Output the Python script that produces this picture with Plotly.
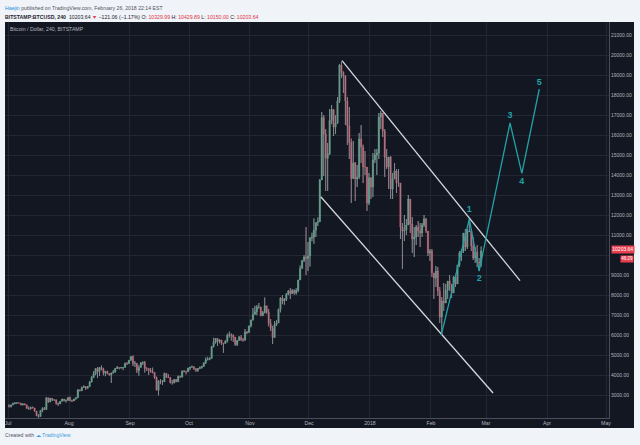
import plotly.graph_objects as go
import pandas as pd

# ---- Daily candles (open, high, low, close), BITSTAMP BTCUSD ----
jul_2017 = [
    (2480,2530,2380,2420),(2420,2520,2380,2500),(2500,2620,2500,2560),(2560,2640,2550,2600),
    (2600,2630,2550,2610),(2610,2620,2580,2600),(2600,2600,2490,2500),(2500,2570,2480,2560),
    (2560,2570,2500,2500),(2500,2520,2310,2330),(2330,2420,2260,2310),(2310,2420,2270,2380),
    (2380,2420,2330,2350),(2350,2360,2160,2200),(2200,2200,1940,1960),(1960,2050,1860,1930),
    (1930,2230,1920,2230),(2230,2390,2140,2320),(2320,2400,2250,2270),(2270,2900,2260,2860),
    (2860,2860,2610,2660),(2660,2860,2640,2830),(2830,2850,2700,2750),(2750,2780,2710,2760),
    (2760,2770,2520,2580),(2580,2620,2460,2550),(2550,2700,2550,2690),(2690,2810,2680,2800),
    (2800,2800,2680,2720),(2720,2760,2620,2750),(2750,2880,2700,2870),
]
aug_2017 = [
    (2870,2920,2690,2710),(2710,2760,2650,2700),(2700,2810,2700,2800),(2800,2890,2770,2860),
    (2860,3300,2860,3250),(3250,3280,3180,3220),(3220,3420,3190,3380),(3380,3480,3370,3420),
    (3420,3430,3250,3340),(3340,3450,3320,3420),(3420,3700,3410,3650),(3650,3950,3630,3870),
    (3870,4200,3860,4060),(4060,4330,3990,4320),(4320,4400,3850,4170),(4170,4390,3950,4380),
    (4380,4480,4240,4290),(4290,4360,3980,4110),(4110,4190,3940,4190),(4190,4210,4040,4080),
    (4080,4080,3970,4000),(4000,4120,3600,4100),(4100,4250,4080,4150),(4150,4340,4120,4330),
    (4330,4450,4300,4370),(4370,4380,4280,4350),(4350,4400,4320,4380),(4380,4400,4240,4380),
    (4380,4620,4380,4580),(4580,4640,4500,4570),(4570,4750,4560,4740),
]
sep_2017 = [
    (4740,4930,4720,4920),(4920,4980,4450,4580),(4580,4700,4400,4590),(4590,4590,4100,4230),
    (4230,4480,3970,4380),(4380,4650,4380,4600),(4600,4680,4500,4630),(4630,4700,4120,4320),
    (4320,4390,4200,4320),(4320,4330,4000,4220),(4220,4350,4110,4170),(4170,4370,4080,4130),
    (4130,4130,3800,3870),(3870,3920,3240,3240),(3240,3740,2980,3700),(3700,3800,3540,3690),
    (3690,3750,3500,3660),(3660,4120,3660,4080),(4080,4090,3850,3900),(3900,4050,3860,3880),
    (3880,3900,3580,3620),(3620,3750,3520,3610),(3610,3800,3580,3780),(3780,3790,3640,3660),
    (3660,3970,3660,3930),(3930,3970,3860,3890),(3890,4220,3890,4200),(4200,4250,4130,4190),
    (4190,4200,4030,4160),(4160,4360,4160,4340),
]
oct_2017 = [
    (4340,4400,4240,4400),(4400,4470,4360,4410),(4410,4430,4260,4310),(4310,4340,4160,4220),
    (4220,4350,4160,4320),(4320,4420,4310,4370),(4370,4460,4320,4430),(4430,4620,4420,4610),
    (4610,4880,4550,4770),(4770,4910,4730,4780),(4780,4880,4740,4830),(4830,5440,4820,5430),
    (5430,5860,5380,5640),(5640,5840,5570,5830),(5830,5850,5450,5680),(5680,5790,5580,5750),
    (5750,5760,5500,5600),(5600,5600,5110,5580),(5580,5740,5560,5700),(5700,6070,5620,5990),
    (5990,6170,5870,6010),(6010,6080,5720,5980),(5980,6040,5650,5900),(5900,5900,5460,5520),
    (5520,5750,5450,5730),(5730,5950,5720,5890),(5890,6000,5700,5780),(5780,5840,5660,5750),
    (5750,6300,5710,6150),(6150,6200,6050,6130),(6130,6470,6110,6450),
]
nov_2017 = [
    (6450,6770,6380,6740),(6740,7350,6740,7030),(7030,7460,7030,7160),(7160,7500,6990,7390),
    (7390,7600,7320,7390),(7390,7420,6940,6960),(6960,7200,6960,7120),(7120,7880,7080,7460),
    (7460,7460,7060,7140),(7140,7300,6430,6570),(6570,6800,6200,6340),(6340,6460,5550,5880),
    (5880,6700,5860,6520),(6520,6740,6450,6600),(6600,7320,6600,7280),(7280,7880,7130,7850),
    (7850,8000,7540,7700),(7700,7850,7510,7780),(7780,8100,7700,8040),(8040,8250,7990,8200),
    (8200,8350,7800,8070),(8070,8290,8050,8240),(8240,8280,8010,8100),(8100,8340,8020,8230),
    (8230,8760,8140,8750),(8750,9480,8750,9320),(9320,9730,9320,9730),(9730,9990,9650,9900),
    (9900,11400,9000,9830),(9830,10650,9200,9950),
]
dec_2017 = [
    (9950,10890,9420,10860),(10860,11120,10690,10900),(10900,11830,10560,11240),(11240,11600,10900,11620),
    (11620,11880,11450,11660),(11660,13800,11660,13750),(13750,17150,13750,16870),(16870,17000,13950,16050),
    (16050,16300,13200,14840),(14840,15600,13200,15060),(15060,17300,15000,16730),(16730,17500,16540,17280),
    (17280,17280,15950,16400),(16400,16990,16050,16590),(16590,17900,16560,17700),(17700,19550,17600,19500),
    (19500,19670,18850,19140),(19140,19180,18100,18950),(18950,19000,16500,17700),(17700,17900,15500,16460),
    (16460,17400,14800,15630),(15630,15820,12600,13830),(13830,15700,13800,14600),(14600,14650,12700,13800),
    (13800,14500,13400,13900),(13900,16100,13800,15800),(15800,16500,14600,15400),(15400,15520,13600,14400),
    (14400,15200,14000,14400),(14400,14400,12200,12600),(12600,14100,12500,13850),
]
jan_2018 = [
    (13850,13900,12800,13400),(13400,15100,12900,14750),(14750,15300,14600,15000),(15000,15300,14000,15100),
    (15100,17100,14800,16900),(16900,17200,16300,17100),(17100,17100,15900,16200),(16200,16300,13900,14900),
    (14900,15300,14300,14400),(14400,14900,13300,14900),(14900,14950,12800,13300),(13300,14100,12800,13800),
    (13800,14600,13800,14200),(14200,14300,13100,13600),(13600,14300,13400,13600),(13600,13600,10800,11400),
    (11400,11600,9300,11200),(11200,12000,10700,11250),(11250,11800,11000,11500),(11500,13000,11500,12800),
    (12800,12800,11100,11550),(11550,11900,10100,10800),(10800,11400,9900,10900),(10900,11500,10500,11400),
    (11400,11700,10900,11200),(11200,11600,10400,11100),(11100,11600,10900,11500),(11500,12000,11400,11800),
    (11800,11850,11100,11200),(11200,11200,9950,10100),(10100,10300,9700,10200),
]
feb_2018 = [
    (10200,10300,8900,9100),(9100,9100,7800,8850),(8850,9450,8400,9200),(9200,9400,7950,8200),
    (8200,8400,6600,6900),(6900,7900,6000,7700),(7700,8600,7200,7600),(7600,8550,7600,8250),
    (8250,8700,7800,8700),(8700,9000,8200,8550),(8550,8550,7850,8100),(8100,8950,8100,8900),
    (8900,8900,8400,8550),(8550,9500,8550,9500),(9500,10200,9400,10100),(10100,10300,9700,10200),
    (10200,11100,10100,11100),(11100,11300,10200,10400),(10400,11300,10300,11150),(11150,11800,11150,11200),
    (11200,11300,10200,10450),(10450,10900,9750,9850),(9850,10400,9600,10150),(10150,10500,9400,9650),
    (9650,9850,9200,9600),(9600,10430,9400,10200),
]
first_candle_day = "2017-07-01 12:00"

# ---- Drawn channel and Elliott wave ----
upper_channel_dates = ["2017-12-17 19:00", "2018-03-18 07:00"]
upper_channel_prices = [19715, 8715]
lower_channel_dates = ["2017-12-07 00:00", "2018-03-04 14:00"]
lower_channel_prices = [12915, 3100]
wave_dates = ["2018-02-06 06:00", "2018-02-20 12:00", "2018-02-25 12:00",
              "2018-03-13 05:00", "2018-03-19 05:00", "2018-03-28 02:00"]
wave_prices = [6000, 11800, 9200, 16600, 14080, 18300]
wave_labels = ["<b>1</b>", "<b>2</b>", "<b>3</b>", "<b>4</b>", "<b>5</b>"]
wave_label_prices = [12250, 8800, 16950, 13665, 18615]

# ---- Axes ----
price_ticks = list(range(3000, 22000, 1000))
price_tick_labels = [f"{v}.00" for v in price_ticks]
price_tick_labels[price_ticks.index(10000)] = ""   # hidden under the last-price tag
month_ticks = ["2017-07-01", "2017-08-01", "2017-09-01", "2017-10-01", "2017-11-01",
               "2017-12-01", "2018-01-01", "2018-02-01", "2018-03-01", "2018-04-01", "2018-05-01"]
month_labels = ["Jul", "Aug", "Sep", "Oct", "Nov", "Dec", "2018", "Feb", "Mar", "Apr", "May"]
last_price = 10203.64
countdown = "46:29"

candles = jul_2017 + aug_2017 + sep_2017 + oct_2017 + nov_2017 + dec_2017 + jan_2018 + feb_2018
dates = pd.date_range(first_candle_day, periods=len(candles), freq="D")
opens = [c[0] for c in candles]
highs = [c[1] for c in candles]
lows = [c[2] for c in candles]
closes = [c[3] for c in candles]

BG = "#131722"
GRID = "#232734"
AXTXT = "#b2b5be"
TEAL = "#22a1a6"
FONT = "Liberation Sans, Arial, sans-serif"

fig = go.Figure()
# wicks
fig.add_trace(go.Ohlc(x=dates, open=opens, high=highs, low=lows, close=closes,
                      tickwidth=0, hoverinfo="skip", showlegend=False,
                      increasing=dict(line=dict(color="#858892", width=1)),
                      decreasing=dict(line=dict(color="#858892", width=1))))
# bodies
fig.add_trace(go.Candlestick(x=dates, open=opens, high=highs, low=lows, close=closes,
                             hoverinfo="skip", showlegend=False, whiskerwidth=0,
                             increasing=dict(line=dict(color="#4fbd8b", width=0.4), fillcolor="#4fbd8b"),
                             decreasing=dict(line=dict(color="#e24a5e", width=0.4), fillcolor="#e24a5e")))

fig.add_trace(go.Scatter(x=upper_channel_dates, y=upper_channel_prices, mode="lines",
                         line=dict(color="#d6d8de", width=1.3), hoverinfo="skip", showlegend=False))
fig.add_trace(go.Scatter(x=lower_channel_dates, y=lower_channel_prices, mode="lines",
                         line=dict(color="#d6d8de", width=1.3), hoverinfo="skip", showlegend=False))
fig.add_trace(go.Scatter(x=wave_dates, y=wave_prices, mode="lines",
                         line=dict(color=TEAL, width=1.3), hoverinfo="skip", showlegend=False))
fig.add_trace(go.Scatter(x=wave_dates[1:], y=wave_label_prices, mode="text", text=wave_labels,
                         textfont=dict(color=TEAL, size=9, family=FONT), hoverinfo="skip",
                         showlegend=False))

W, H = 640, 445
L, R, T, B = 5, 31, 22, 27
pw, ph = W - L - R, H - T - B


def px(xp):
    return (xp - L) / pw


def py(yp):
    return (H - B - yp) / ph


fig.add_shape(type="rect", xref="paper", yref="paper", x0=0, x1=px(634), y0=py(428), y1=1,
              fillcolor=BG, line=dict(width=0), layer="below")

annotations = [
    dict(text="<span style='color:#2a8fd8'>Haejin</span> published on TradingView.com, February 26, 2018 22:14 EST",
         x=px(3), y=py(7.5), font=dict(size=5.2, color="#50535e")),
    dict(text="<b>BITSTAMP:BTCUSD, 240</b>  10203.64 <span style='color:#e0343f'>▼</span> −121.06 (−1.17%) "
              "O: <span style='color:#e0343f'>10329.99</span> H: <span style='color:#e0343f'>10429.89</span> "
              "L: <span style='color:#e0343f'>10150.00</span> C: <span style='color:#e0343f'>10203.64</span>",
         x=px(3), y=py(16.5), font=dict(size=5.2, color="#1f222b")),
    dict(text="Bitcoin / Dollar, 240, BITSTAMP", x=px(8), y=py(29), font=dict(size=5.2, color=AXTXT)),
    dict(text="Created with <span style='color:#3c9ee0'>☁ TradingView</span>", x=px(3), y=py(435),
         font=dict(size=5.2, color="#50535e")),
]
for a in annotations:
    a.update(xref="paper", yref="paper", xanchor="left", yanchor="middle", showarrow=False,
             font=dict(family=FONT, **a["font"]))
    fig.add_annotation(**a)

fig.add_annotation(text=f"{last_price:.2f}", xref="paper", yref="paper", x=px(610.5), y=py(250),
                   xanchor="left", yanchor="middle", showarrow=False, bgcolor="#e8404f",
                   borderpad=0.3, font=dict(family=FONT, size=5, color="white"))
fig.add_annotation(text=countdown, xref="paper", yref="paper", x=px(634), y=py(259),
                   xanchor="right", yanchor="middle", showarrow=False, bgcolor="#e8404f",
                   borderpad=0.3, font=dict(family=FONT, size=4.5, color="white"))

fig.update_layout(
    width=W, height=H, margin=dict(l=L, r=R, t=T, b=B),
    paper_bgcolor="#f0f3f8", plot_bgcolor=BG, boxgap=0.0,
    xaxis=dict(type="date", range=["2017-06-29 11:00", "2018-05-02 12:30"],
               tickvals=month_ticks, ticktext=month_labels, showgrid=True, gridcolor=GRID,
               gridwidth=1, showline=True, linecolor="#4a4e5a", linewidth=1, ticks="",
               tickfont=dict(family=FONT, size=5.2, color=AXTXT), rangeslider=dict(visible=False),
               zeroline=False, fixedrange=True),
    yaxis=dict(side="right", range=[1850, 21650], tickvals=price_ticks,
               ticktext=price_tick_labels, showgrid=True, gridcolor=GRID,
               gridwidth=1, showline=True, linecolor="#4a4e5a", linewidth=1, ticks="",
               tickfont=dict(family=FONT, size=5, color=AXTXT), zeroline=False, fixedrange=True),
    showlegend=False,
)

fig.write_html("out.html")
